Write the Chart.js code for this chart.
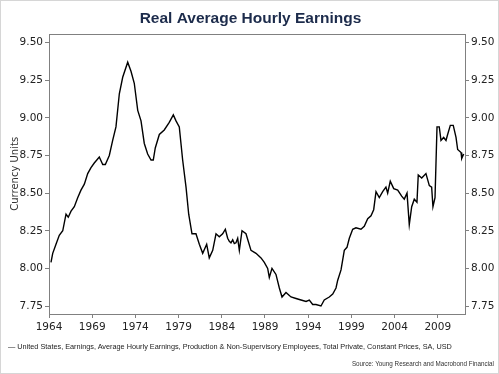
<!DOCTYPE html>
<html>
<head>
<meta charset="utf-8">
<script src="https://cdn.jsdelivr.net/npm/chart.js@4.4.0/dist/chart.umd.min.js"></script>
<style>
  html, body { margin: 0; padding: 0; background: #fff; }
  #wrap { position: relative; width: 499px; height: 374px; box-sizing: border-box; border: 1px solid #d6d6d6; overflow: hidden; }
  #chart { position: absolute; left: 0; top: 0; }
  #legend { position: absolute; left: 7px; top: 341px; font: 7.3px "Liberation Sans", Arial, sans-serif; color: #222; white-space: nowrap; }
  #source { position: absolute; right: 4px; top: 359px; font: 6.3px "Liberation Sans", Arial, sans-serif; color: #333; white-space: nowrap; }
</style>
</head>
<body>
<div id="wrap">
  <canvas id="chart" width="499" height="374"></canvas>
  <div id="legend">&#8212; United States, Earnings, Average Hourly Earnings, Production &amp; Non-Supervisory Employees, Total Private, Constant Prices, SA, USD</div>
  <div id="source">Source: Young Research and Macrobond Financial</div>
</div>
<script>
// --- data ---
const years = [
  1964.23, 1964.43, 1964.81, 1965.19, 1965.59, 1965.97, 1966.23, 1966.55, 1966.93, 1967.32,
  1967.70, 1968.09, 1968.48, 1968.86, 1969.24, 1969.82, 1970.22, 1970.52, 1970.98, 1971.37,
  1971.75, 1972.14, 1972.53, 1973.11, 1973.49, 1973.87, 1974.27, 1974.65, 1975.03, 1975.42,
  1975.81, 1976.07, 1976.30, 1976.77, 1977.34, 1977.92, 1978.39, 1978.70, 1979.08, 1979.47,
  1979.86, 1980.17, 1980.55, 1981.01, 1981.40, 1981.79, 1982.25, 1982.55, 1982.95, 1983.33,
  1983.71, 1984.10, 1984.41, 1984.68, 1984.87, 1985.06, 1985.26, 1985.45, 1985.64, 1985.84,
  1986.03, 1986.34, 1986.80, 1987.38, 1987.96,
  1988.54, 1988.92, 1989.31, 1989.50, 1989.81, 1990.27, 1990.66, 1990.97, 1991.43, 1992.01,
  1992.59, 1993.17, 1993.75, 1994.13, 1994.52, 1994.90, 1995.48, 1995.86, 1996.44, 1996.84,
  1997.22, 1997.41, 1997.80, 1998.18, 1998.49, 1998.76, 1999.15, 1999.53, 2000.11, 2000.49,
  2000.89, 2001.27, 2001.58, 2001.85, 2002.23, 2002.62, 2003.00, 2003.20, 2003.50, 2003.90,
  2004.36, 2004.82, 2005.12, 2005.44, 2005.70, 2005.98, 2006.28, 2006.59, 2006.74, 2007.14,
  2007.63, 2008.02, 2008.29, 2008.44, 2008.68, 2008.91, 2009.17, 2009.37, 2009.68, 2009.95,
  2010.14, 2010.45, 2010.79, 2011.11, 2011.30, 2011.69, 2011.77, 2012.00
];
const earnings = [
  8.04, 8.10, 8.16, 8.22, 8.25, 8.36, 8.34, 8.38, 8.41, 8.47,
  8.52, 8.56, 8.63, 8.67, 8.70, 8.74, 8.69, 8.69, 8.75, 8.85,
  8.94, 9.16, 9.27, 9.37, 9.31, 9.23, 9.05, 8.98, 8.83, 8.76,
  8.72, 8.72, 8.80, 8.89, 8.92, 8.97, 9.02, 8.98, 8.94, 8.72,
  8.54, 8.36, 8.23, 8.23, 8.16, 8.10, 8.16, 8.07, 8.12, 8.23,
  8.21, 8.23, 8.26, 8.20, 8.18, 8.17, 8.19, 8.165, 8.17, 8.20,
  8.12, 8.25, 8.23, 8.12, 8.10,
  8.07, 8.04, 8.00, 7.94, 8.00, 7.96, 7.87, 7.81, 7.84, 7.81,
  7.80, 7.79, 7.78, 7.79, 7.76, 7.76, 7.75, 7.79, 7.81, 7.83,
  7.87, 7.92, 7.99, 8.12, 8.14, 8.20, 8.26, 8.27, 8.26, 8.28,
  8.33, 8.35, 8.39, 8.51, 8.47, 8.51, 8.54, 8.50, 8.58, 8.53,
  8.52, 8.48, 8.46, 8.50, 8.29, 8.41, 8.46, 8.44, 8.62, 8.60,
  8.63, 8.55, 8.54, 8.41, 8.47, 8.94, 8.94, 8.85, 8.87, 8.85,
  8.89, 8.95, 8.95, 8.87, 8.79, 8.77, 8.73, 8.76
];
const xTicks = [1964, 1969, 1974, 1979, 1984, 1989, 1994, 1999, 2004, 2009];
const yTicks = [7.75, 8.00, 8.25, 8.50, 8.75, 9.00, 9.25, 9.50];

const tickFont = { family: 'DejaVu Sans', size: 10.5 };
const frameColor = '#808080';

// frame around the plot area (all four sides)
const frame = {
  id: 'frame',
  afterDraw(chart) {
    const a = chart.chartArea, ctx = chart.ctx;
    ctx.save();
    ctx.strokeStyle = frameColor;
    ctx.lineWidth = 1;
    ctx.strokeRect(Math.round(a.left) + 0.5, Math.round(a.top) + 0.5,
                   Math.round(a.right - a.left), Math.round(a.bottom - a.top));
    ctx.restore();
  }
};

function yAxis(position, width) {
  return {
    type: 'linear',
    position: position,
    min: 7.697,
    max: 9.56,
    afterBuildTicks: s => { s.ticks = yTicks.map(v => ({ value: v })); },
    afterFit: s => { s.width = width; },
    ticks: { font: tickFont, color: '#222', padding: 2, callback: v => v.toFixed(2) },
    grid: { drawOnChartArea: false, drawTicks: true, tickLength: 4, tickColor: frameColor },
    border: { display: false }
  };
}

const leftAxis = yAxis('left', 48);
leftAxis.title = { display: true, text: 'Currency Units', font: { family: 'DejaVu Sans', size: 10 }, color: '#333', padding: { top: 8, bottom: 0 } };

new Chart(document.getElementById('chart'), {
  type: 'line',
  data: {
    datasets: [{
      data: years.map((x, i) => ({ x: x, y: earnings[i] })),
      borderColor: '#000',
      borderWidth: 1.4,
      pointRadius: 0,
      tension: 0,
      fill: false
    }]
  },
  options: {
    responsive: false,
    animation: false,
    layout: { padding: { left: 0, right: 0, top: 0, bottom: 36 } },
    plugins: {
      legend: { display: false },
      tooltip: { enabled: false },
      title: {
        display: true,
        text: 'Real Average Hourly Earnings',
        color: '#1c2b4b',
        font: { family: 'Liberation Sans', size: 15.5, weight: 'bold' },
        padding: { top: 8, bottom: 6 }
      }
    },
    scales: {
      x: {
        type: 'linear',
        min: 1964,
        max: 2012.15,
        afterBuildTicks: s => { s.ticks = xTicks.map(v => ({ value: v })); },
        afterFit: s => { s.height = 25; },
        ticks: { font: tickFont, color: '#222', padding: 3, maxRotation: 0, callback: v => String(v) },
        grid: { drawOnChartArea: false, drawTicks: true, tickLength: 4, tickColor: frameColor },
        border: { display: false }
      },
      y: leftAxis,
      y2: yAxis('right', 35)
    }
  },
  plugins: [frame]
});
</script>
</body>
</html>
